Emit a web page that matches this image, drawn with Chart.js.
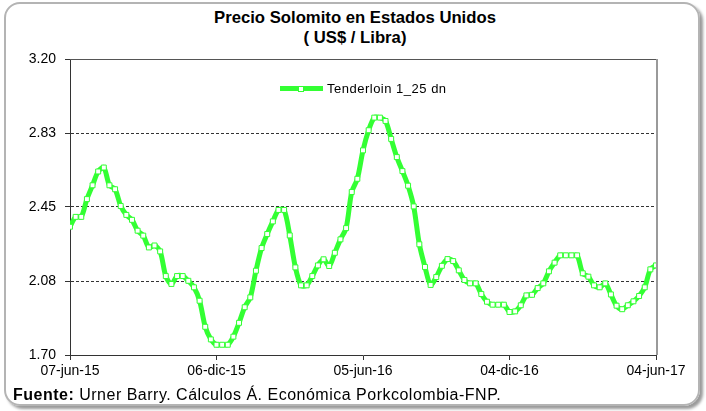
<!DOCTYPE html>
<html>
<head>
<meta charset="utf-8">
<script src="https://cdn.jsdelivr.net/npm/chart.js@4.4.1/dist/chart.umd.min.js"></script>
<style>
  body { margin: 0; background: #fff; font-family: "Liberation Sans", Arial, sans-serif; }
  #wrap { position: relative; width: 706px; height: 411px; overflow: hidden; }
  #frame {
    position: absolute; left: 4px; top: 2px; width: 692px; height: 400px;
    border: 2px solid #b4b4b4; border-radius: 16px;
    box-shadow: 3px 3px 3px #9a9a9a;
  }
  #title {
    position: absolute; left: 0; width: 710px; top: 8px; text-align: center;
    font-weight: bold; font-size: 16.7px; line-height: 20px; color: #000;
  }
  #source {
    position: absolute; left: 13px; top: 386px; font-size: 16px; letter-spacing: 0.5px; color: #000;
  }
  #legend {
    position: absolute; left: 280px; top: 81px; height: 16px;
    font-size: 13px; letter-spacing: 0.5px; color: #000; white-space: nowrap;
  }
  #legend .sw {
    position: relative; display: inline-block; width: 43px; height: 5px;
    background: #33ff33; vertical-align: middle; margin-right: 4px; top: -1px;
  }
  #legend .sw i {
    position: absolute; left: 18px; top: -0.5px; width: 4px; height: 4px;
    background: #fff; border: 1px solid #33ff33;
  }
  canvas { position: absolute; left: 0; top: 0; }
</style>
</head>
<body>
<div id="wrap">
  <div id="frame"></div>
  <div id="title">Precio Solomito en Estados Unidos<br>( US$ / Libra)</div>
  <canvas id="c" width="706" height="411"></canvas>
  <div id="legend"></div>
  <div id="source"><b>Fuente:</b> Urner Barry. Cálculos Á. Económica Porkcolombia-FNP.</div>
</div>
<script>
// weekly prices, 07-jun-15 .. 04-jun-17 (US$ / lb)
const prices = [
  2.35, 2.40, 2.40, 2.49, 2.56, 2.63, 2.65, 2.56, 2.54, 2.455,
  2.41, 2.385, 2.33, 2.305, 2.245, 2.255, 2.225, 2.10, 2.06, 2.10,
  2.10, 2.076, 2.043, 1.975, 1.843, 1.779, 1.752, 1.752, 1.752, 1.793,
  1.863, 1.942, 1.992, 2.127, 2.242, 2.313, 2.377, 2.435, 2.435, 2.306,
  2.144, 2.053, 2.053, 2.10, 2.154, 2.185, 2.151, 2.218, 2.286, 2.343,
  2.526, 2.593, 2.737, 2.839, 2.903, 2.903, 2.886, 2.795, 2.703, 2.632,
  2.558, 2.453, 2.261, 2.146, 2.055, 2.095, 2.152, 2.186, 2.176, 2.129,
  2.08, 2.063, 2.063, 2.009, 1.970, 1.955, 1.955, 1.955, 1.918, 1.921,
  1.952, 2.002, 2.005, 2.039, 2.063, 2.124, 2.168, 2.205, 2.205, 2.205,
  2.205, 2.114, 2.097, 2.053, 2.043, 2.063, 2.007, 1.950, 1.932, 1.952,
  1.972, 1.999, 2.043, 2.134, 2.154
];
const seriesName = 'Tenderloin 1_25 dn';

const xTickWeeks = [0, 26, 52, 78, 104];
const xTickLabels = ['07-jun-15', '06-dic-15', '05-jun-16', '04-dic-16', '04-jun-17'];
const yTickValues = [1.70, 2.075, 2.45, 2.825, 3.20];
const yTickLabels = ['1.70', '2.08', '2.45', '2.83', '3.20'];

const green = '#33ff33';

document.getElementById('legend').innerHTML = '<span class="sw"><i></i></span>' + seriesName;

// top and right plot border
const frameLines = {
  id: 'frameLines',
  beforeDatasetsDraw(chart) {
    const { ctx, chartArea: a } = chart;
    ctx.save();
    ctx.strokeStyle = '#555'; ctx.lineWidth = 1;
    ctx.beginPath(); ctx.moveTo(a.left, a.top + 0.5); ctx.lineTo(a.right, a.top + 0.5); ctx.stroke();
    ctx.strokeStyle = '#9a9a9a'; ctx.lineWidth = 2;
    ctx.beginPath(); ctx.moveTo(a.right + 1, a.top); ctx.lineTo(a.right + 1, a.bottom); ctx.stroke();
    ctx.restore();
  }
};

new Chart(document.getElementById('c'), {
  type: 'line',
  data: {
    datasets: [{
      label: seriesName,
      data: prices.map((v, i) => ({ x: i, y: v })),
      borderColor: green,
      borderWidth: 5,
      tension: 0.3,
      pointStyle: 'rect',
      pointRadius: 3.5,
      pointBorderWidth: 1,
      pointBackgroundColor: '#fff',
      pointBorderColor: green
    }]
  },
  options: {
    responsive: false,
    animation: false,
    events: [],
    layout: { padding: { left: 0, top: 59, right: 50, bottom: 30 } },
    plugins: {
      title: { display: false },
      tooltip: { enabled: false },
      legend: { display: false }
    },
    scales: {
      x: {
        type: 'linear',
        min: 0, max: 104,
        afterBuildTicks: s => { s.ticks = xTickWeeks.map(v => ({ value: v })); },
        afterFit: s => { s.height = 26; },
        ticks: {
          autoSkip: false, maxRotation: 0, padding: 3,
          color: '#000',
          font: { family: 'Liberation Sans', size: 14 },
          callback: (v) => xTickLabels[xTickWeeks.indexOf(v)]
        },
        grid: { drawOnChartArea: false, drawTicks: true, tickLength: 5, color: '#333' },
        border: { color: '#333', width: 1 }
      },
      y: {
        min: 1.70, max: 3.20,
        afterBuildTicks: s => { s.ticks = yTickValues.map(v => ({ value: v })); },
        afterFit: s => { s.width = 70; },
        ticks: {
          padding: 9,
          color: '#000',
          font: { family: 'Liberation Sans', size: 14 },
          callback: (v) => yTickLabels[yTickValues.indexOf(v)]
        },
        grid: {
          drawTicks: true, tickLength: 5,
          color: c => (c.index === 0 || c.index === yTickValues.length - 1) ? 'rgba(0,0,0,0)' : '#333',
          tickColor: '#333'
        },
        border: { color: '#333', width: 1, dash: [3, 2] }
      }
    }
  },
  plugins: [frameLines]
});
</script>
</body>
</html>
